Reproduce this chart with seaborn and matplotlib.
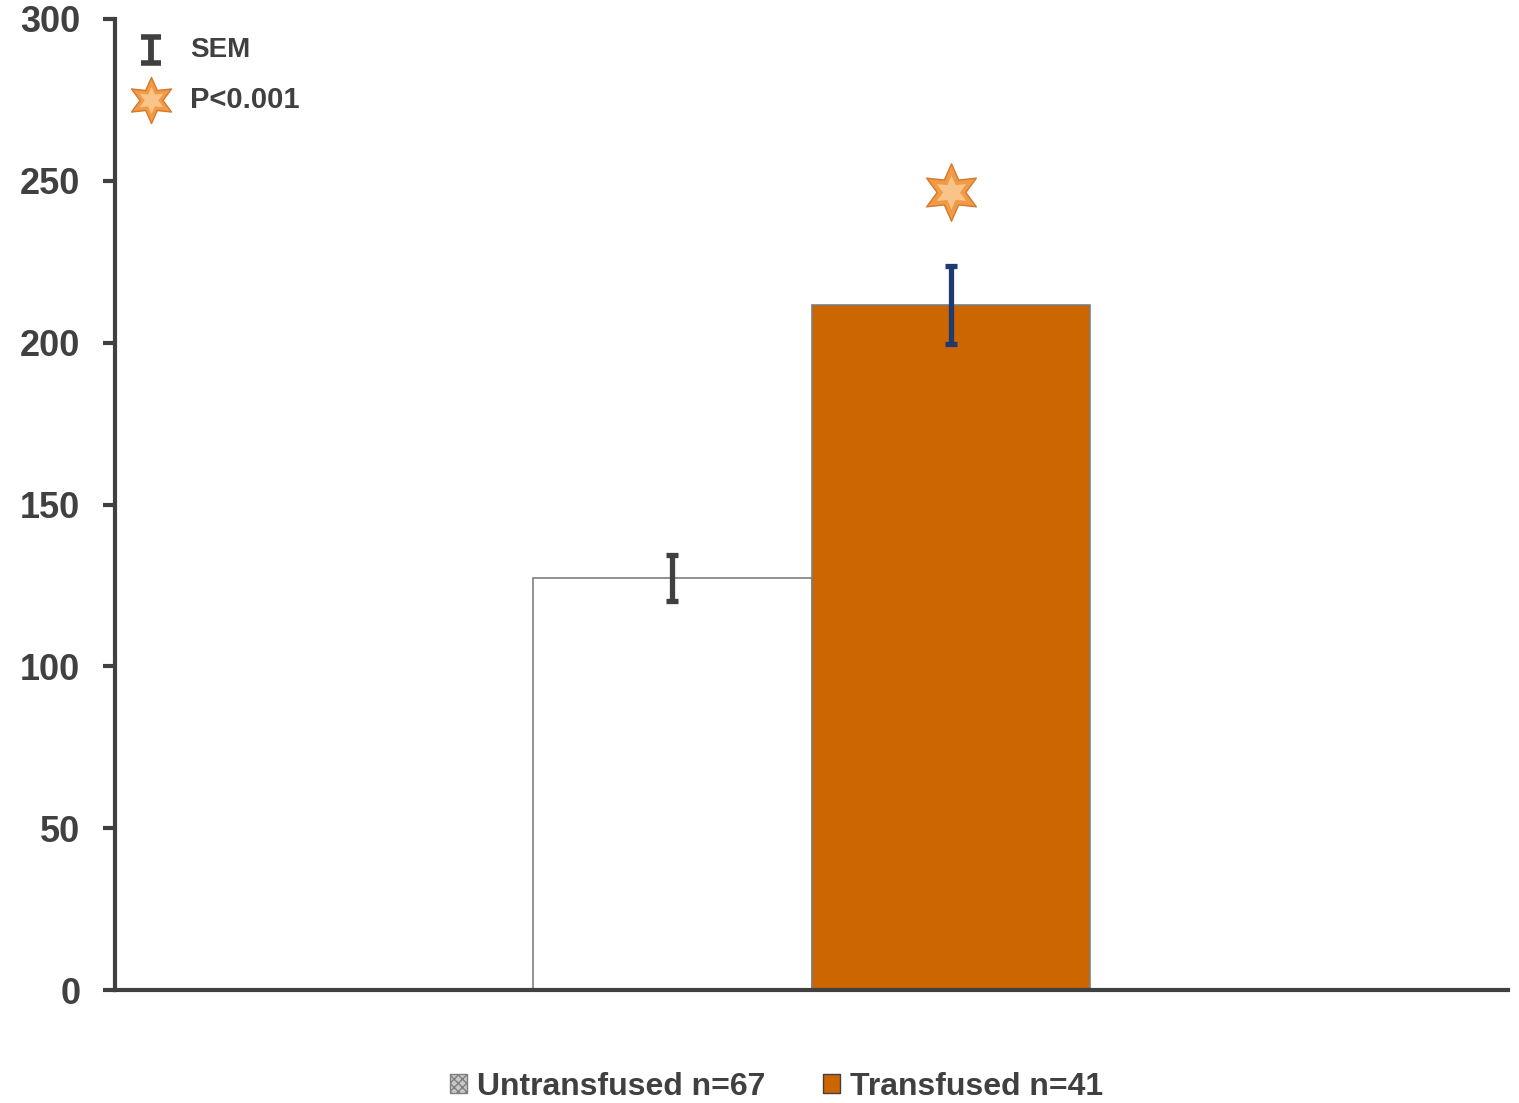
import matplotlib
matplotlib.use("Agg")
import matplotlib.pyplot as plt
from matplotlib.patches import Patch
import seaborn as sns
import pandas as pd

# Group means with standard error of the mean
groups = ["Untransfused n=67", "Transfused n=41"]
means = [127.3, 211.6]
sems = [7.0, 12.0]
star_value = 246.5
yticks = [0, 50, 100, 150, 200, 250, 300]

bar_colors = ["#FFFFFF", "#CC6600"]
err_colors = ["#404040", "#1F3A6E"]
text_color = "#404040"
star_face = "#F29A45"
star_light = "#F9C489"
star_edge = "#D47A2C"


def draw_star(axis, x, y, size, **kw):
    """Six-pointed star with a soft shadow and a lighter inner highlight."""
    axis.scatter([x], [y], marker=(6, 1, 0), s=size * 1.08, color="#8A8A8A",
                 alpha=0.3, linewidths=0, zorder=5, **kw)
    axis.scatter([x], [y], marker=(6, 1, 0), s=size, color=star_face,
                 edgecolors=star_edge, linewidths=1.0, zorder=6, **kw)
    axis.scatter([x], [y], marker=(6, 1, 0), s=size * 0.35, color=star_light,
                 linewidths=0, zorder=7, **kw)


sns.set_theme(style="white")
plt.rcParams["font.family"] = ["Liberation Sans", "DejaVu Sans"]
plt.rcParams["font.weight"] = "bold"

df = pd.DataFrame({"panel": ["all", "all"], "group": groups, "value": means})

fig = plt.figure(figsize=(15.19, 11.03), dpi=100)
ax = fig.add_axes([0.0757, 0.1024, 0.9171, 0.8804])

sns.barplot(data=df, x="panel", y="value", hue="group", hue_order=groups,
            palette=bar_colors, saturation=1, width=0.4, errorbar=None,
            legend=False, edgecolor="#7F7F7F", linewidth=1.2, ax=ax)

# SEM error bars at the centre of each bar
for patch, m, s, c in zip(ax.patches, means, sems, err_colors):
    xc = patch.get_x() + patch.get_width() / 2
    ax.errorbar(xc, m, yerr=s, fmt="none", ecolor=c, elinewidth=3.8,
                capsize=4.5, capthick=3.8, zorder=5)
    if c == err_colors[1]:
        # significance marker above the transfused bar
        draw_star(ax, xc, star_value, 1700)

ax.set_xlim(-0.5, 0.5)
ax.set_ylim(0, 300)
ax.set_yticks(yticks)
ax.set_xticks([])
ax.set_xlabel("")
ax.set_ylabel("")
ax.tick_params(axis="y", which="both", direction="out", length=9, width=3,
               color=text_color, labelsize=26, labelcolor=text_color, pad=16, left=True)
for lbl in ax.get_yticklabels():
    lbl.set_fontweight("bold")

sns.despine(ax=ax)
for side in ["left", "bottom"]:
    ax.spines[side].set_linewidth(3)
    ax.spines[side].set_color(text_color)

# Key in the upper left corner
ax.errorbar([0.0258], [0.968], yerr=[0.013], fmt="none", ecolor=text_color,
            elinewidth=4.2, capsize=7, capthick=4.0, transform=ax.transAxes,
            clip_on=False)
draw_star(ax, 0.0258, 0.9166, 1100, transform=ax.transAxes, clip_on=False)
ax.text(0.0538, 0.968, "SEM", transform=ax.transAxes, fontsize=20,
        fontweight="bold", color=text_color, va="center", ha="left")
ax.text(0.0538, 0.9166, "P<0.001", transform=ax.transAxes, fontsize=21,
        fontweight="bold", color=text_color, va="center", ha="left")

handles = [
    Patch(facecolor="#C8C8C8", edgecolor="#7F7F7F", hatch="xxxx", linewidth=1,
          label=groups[0]),
    Patch(facecolor="#CC6600", edgecolor="#404040", linewidth=1, label=groups[1]),
]
leg = fig.legend(handles=handles, loc="center", bbox_to_anchor=(0.511, 0.0145),
                 ncol=2, frameon=False, handlelength=0.55, handleheight=0.55,
                 handletextpad=0.3, columnspacing=1.8,
                 prop={"weight": "bold", "size": 23})
for t in leg.get_texts():
    t.set_color(text_color)

fig.savefig("out.png", dpi=100, facecolor="white")
